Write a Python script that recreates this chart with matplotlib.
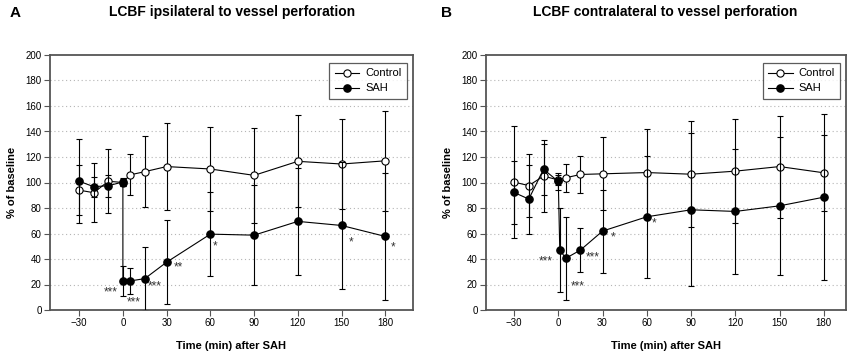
import matplotlib
matplotlib.use("Agg")
import matplotlib.pyplot as plt

plt.rcParams['font.family'] = ['Liberation Sans', 'DejaVu Sans']

# time points (min) and values (% of baseline)
ctrl_t = [-30, -20, -10, 0, 5, 15, 30, 60, 90, 120, 150, 180]
ctrl_a = [94, 92, 101, 100, 106, 108.5, 112.5, 110.6, 105.6, 116.6, 114.5, 117]
ctrl_a_sd = [19.5, 23, 25, 3, 16, 28, 34, 33, 37, 36, 35, 39]
sah_t_a = [-30, -20, -10, 0, 0, 5, 15, 30, 60, 90, 120, 150, 180]
sah_a = [101, 96.7, 97.5, 100.4, 22.8, 22.8, 24.6, 37.5, 59.5, 58.7, 69.5, 66.3, 57.7]
sah_a_sd = [33, 8, 8.5, 3, 12, 10, 25, 33, 33, 39, 42, 50, 50]

ctrl_b = [100.3, 97.6, 105, 102, 103.7, 106.3, 106.8, 107.8, 106.5, 108.9, 112.5, 107.6]
ctrl_b_sd = [44, 25, 28, 4, 11, 14.5, 28.5, 34, 41.5, 41, 40, 30]
sah_t_b = [-30, -20, -10, 0, 1, 5, 15, 30, 60, 90, 120, 150, 180]
sah_b = [92.2, 87, 110.4, 100.8, 47.3, 40.5, 47, 61.9, 73.1, 78.6, 77.3, 81.7, 88.5]
sah_b_sd = [25, 27, 20, 7, 33, 32.5, 17, 32.5, 48, 60, 49, 54, 65]

# significance marks (text, x, y)
stars_a = [('***', -8.5, 14), ('***', 7.3, 6.3), ('***', 21.6, 18.8), ('**', 38, 33),
           ('*', 63.4, 50), ('*', 156.4, 53), ('*', 185, 49)]
stars_b = [('***', -8.6, 38.4), ('***', 13, 18.8), ('***', 23.3, 41.6),
           ('*', 36.8, 57), ('*', 64.6, 67.5)]

xticks = [-30, 0, 30, 60, 90, 120, 150, 180]
yticks = list(range(0, 201, 20))

fig = plt.figure(figsize=(8.56, 3.58), dpi=100)
W, H = 856, 358
ax_a = fig.add_axes([50 / W, 1 - 310 / H, 363 / W, 255 / H])
ax_b = fig.add_axes([486 / W, 1 - 310 / H, 360 / W, 255 / H])

panels = [
    (ax_a, 'A', 'LCBF ipsilateral to vessel perforation', ctrl_a, ctrl_a_sd,
     sah_t_a, sah_a, sah_a_sd, stars_a, (-50, 199), 10, 232),
    (ax_b, 'B', 'LCBF contralateral to vessel perforation', ctrl_b, ctrl_b_sd,
     sah_t_b, sah_b, sah_b_sd, stars_b, (-49, 195), 441, 665),
]

for ax, letter, title, cv, csd, st, sv, ssd, stars, xl, lx, tx in panels:
    c1 = ax.errorbar(ctrl_t, cv, yerr=csd, color='black', lw=0.8, elinewidth=0.8,
                     capsize=2.5, capthick=0.8, marker='o', ms=5.2, mfc='white',
                     mec='black', mew=0.8, zorder=3)
    c2 = ax.errorbar(st, sv, yerr=ssd, color='black', lw=0.8, elinewidth=0.8,
                     capsize=2.5, capthick=0.8, marker='o', ms=5.2, mfc='black',
                     mec='black', zorder=4)
    for s, x, y in stars:
        ax.text(x, y, s, ha='center', va='center', fontsize=8.5, color='#333333')

    ax.set_xlim(*xl)
    ax.set_ylim(0, 200)
    ax.set_xticks(xticks)
    ax.set_yticks(yticks)
    ax.tick_params(labelsize=7, length=4, width=0.8, color='#555555', pad=2)
    for y in yticks[1:-1]:
        ax.axhline(y, color='#b5b5b5', lw=0.8, ls=(0, (1, 2.5)), zorder=0)
    for sp in ax.spines.values():
        sp.set_color('#555555')
        sp.set_linewidth(1.3)

    ax.set_xlabel('Time (min) after SAH', fontsize=8, fontweight='bold', labelpad=9)
    ax.set_ylabel('% of baseline', fontsize=8, fontweight='bold', labelpad=6)
    fig.text(tx / W, 1 - 12 / H, title, fontsize=10, fontweight='bold',
             ha='center', va='center')
    fig.text(lx / W, 1 - 13 / H, letter, fontsize=11, fontweight='bold',
             ha='left', va='center')

    # legend shows only line + marker, no error bars
    leg = ax.legend([c1[0], c2[0]], ['Control', 'SAH'], loc='upper right',
                    bbox_to_anchor=(0.983, 0.969), fontsize=8,
                    frameon=True, fancybox=False, handlelength=2.2,
                    borderpad=0.5, labelspacing=0.45, handletextpad=0.5,
                    borderaxespad=0)
    leg.get_frame().set_edgecolor('#333333')
    leg.get_frame().set_linewidth(0.9)

fig.savefig('out.png', dpi=100)
